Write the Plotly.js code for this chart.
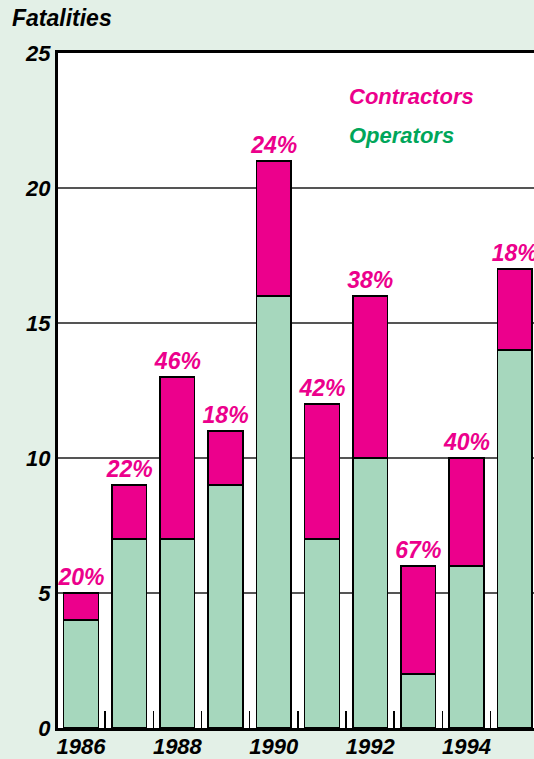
<!DOCTYPE html>
<html>
<head>
<meta charset="utf-8">
<script src="https://cdn.plot.ly/plotly-3.0.1.min.js"></script>
<style>html,body{margin:0;padding:0;background:#e3f0e7;}</style>
</head>
<body>
<div id="chart" style="width:534px;height:759px;"></div>
<script>
const years = [1986, 1987, 1988, 1989, 1990, 1991, 1992, 1993, 1994, 1995];
const operators = [4, 7, 7, 9, 16, 7, 10, 2, 6, 14];
const contractors = [1, 2, 6, 2, 5, 5, 6, 4, 4, 3];
const pctLabels = ['20%', '22%', '46%', '18%', '24%', '42%', '38%', '67%', '40%', '18%'];
const yTicks = [0, 5, 10, 15, 20, 25];
const xLabelYears = [1986, 1988, 1990, 1992, 1994];
const boundaryTicks = [1986.5, 1987.5, 1988.5, 1989.5, 1990.5, 1991.5, 1992.5, 1993.5, 1994.5];

const FONT = '"Liberation Sans", Arial, sans-serif';
const PINK = '#ec008c';
const GREEN_BAR = '#a6d7bd';
const GREEN_TXT = '#00a65a';

const traces = [
  {
    type: 'bar', x: years, y: operators, name: 'Operators',
    marker: {color: GREEN_BAR, line: {color: '#000', width: 1.5}},
    hoverinfo: 'skip'
  },
  {
    type: 'bar', x: years, y: contractors, name: 'Contractors',
    marker: {color: PINK, line: {color: '#000', width: 1.5}},
    text: pctLabels, textposition: 'outside', cliponaxis: false, constraintext: 'none',
    textfont: {family: FONT, size: 23, color: PINK, style: 'italic', weight: 'bold'},
    hoverinfo: 'skip'
  }
];

const layout = {
  width: 534, height: 759,
  margin: {l: 58, r: 0, t: 53, b: 31},
  paper_bgcolor: '#e3f0e7',
  plot_bgcolor: '#ffffff',
  barmode: 'stack',
  bargap: 0.28,
  showlegend: false,
  font: {family: FONT},
  xaxis: {
    range: [1985.523, 1995.4],
    tickmode: 'array', tickvals: xLabelYears, ticktext: xLabelYears.map(v => '<i><b>' + v + '</b></i>'),
    ticks: '', showgrid: false, zeroline: false, ticklabelstandoff: -3,
    showline: true, linecolor: '#000', linewidth: 3, mirror: true,
    tickfont: {family: FONT, size: 22, color: '#000'},
    minor: {tickmode: 'array', tickvals: boundaryTicks, ticks: 'inside', ticklen: 17, tickwidth: 1.5, tickcolor: '#000', showgrid: false}
  },
  yaxis: {
    range: [0, 25],
    tickmode: 'array', tickvals: yTicks, ticktext: yTicks.map(v => '<i><b>' + v + '</b></i>'),
    ticks: '', showgrid: true, gridcolor: '#555', gridwidth: 1.3, zeroline: false,
    showline: true, linecolor: '#000', linewidth: 3,
    tickfont: {family: FONT, size: 22, color: '#000'}
  },
  annotations: [
    {xref: 'paper', yref: 'paper', x: -0.1, y: 1.0, xanchor: 'left', yanchor: 'bottom', yshift: 20,
     text: '<i><b>Fatalities</b></i>', showarrow: false,
     font: {family: FONT, size: 23, color: '#000'}},
    {xref: 'paper', yref: 'paper', x: 0.607, y: 0.935, xanchor: 'left', yanchor: 'middle',
     text: '<i><b>Contractors</b></i>', showarrow: false,
     font: {family: FONT, size: 22, color: PINK}},
    {xref: 'paper', yref: 'paper', x: 0.607, y: 0.8785, xanchor: 'left', yanchor: 'middle',
     text: '<i><b>Operators</b></i>', showarrow: false,
     font: {family: FONT, size: 22, color: GREEN_TXT}}
  ]
};

Plotly.newPlot('chart', traces, layout, {displayModeBar: false, staticPlot: true});
</script>
</body>
</html>
